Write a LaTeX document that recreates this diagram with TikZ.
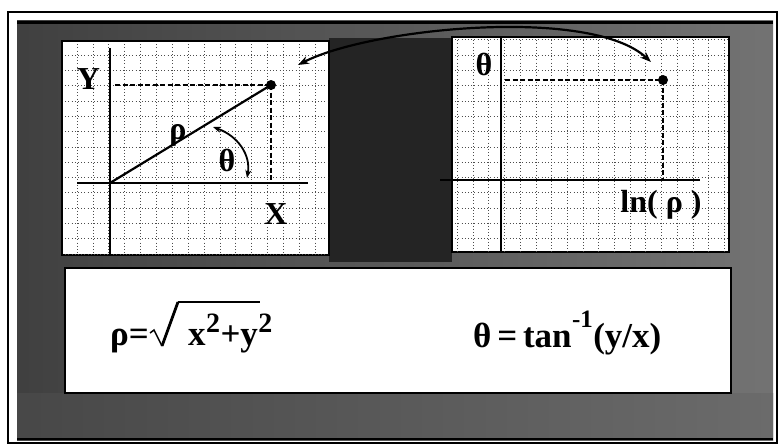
\documentclass[tikz,border=0pt]{standalone}
\usepackage{fontspec}
\setmainfont{Liberation Serif}
\usetikzlibrary{arrows.meta}
\begin{document}
\begin{tikzpicture}[x=1pt,y=-1pt,
  panel/.style={fill=white,draw=black,line width=2.2pt},
  gridline/.style={black!70,line width=0.6pt,dash pattern=on 0.8pt off 2.4pt},
  axisline/.style={black,line width=2pt},
  guide/.style={black,line width=2.4pt,dash pattern=on 5pt off 2.5pt},
  lbl/.style={font=\fontsize{32}{34}\selectfont\bfseries,inner sep=0pt},
  frm/.style={font=\fontsize{35}{38}\selectfont\bfseries,inner sep=0pt},
  sup/.style={font=\fontsize{28}{30}\selectfont\bfseries,inner sep=0pt},
  supsm/.style={font=\fontsize{25}{27}\selectfont\bfseries,inner sep=0pt},
  dotpt/.style={circle,fill=black,inner sep=0pt,minimum size=10pt},
  bigtip/.tip={Stealth[length=11pt,width=8pt]},
  smalltip/.tip={Stealth[length=8pt,width=6pt]},
]
\useasboundingbox (0,0) rectangle (780,445);
\fill[white] (0,0) rectangle (780,445);
% frame and textured background
\draw[line width=1.5pt] (8,12) rectangle (777,443);
\shade[left color=black!75,right color=black!55] (17,20) rectangle (773,440);
\shade[left color=black!72,right color=black!58] (17,393) rectangle (773,440);
\fill[black!86] (329,38) rectangle (452,262);
\draw[line width=3pt] (17,22) -- (773,22);
\draw[line width=2pt] (17,439) -- (773,439);

% ---------- left panel ----------
\draw[panel] (62,41) rectangle (329,255);
\begin{scope}
  \clip (63,42) rectangle (328,254);
  \foreach \i in {-1,...,16} \draw[gridline] ({77+15.87*\i},41) -- ++(0,214);
  \foreach \j in {-1,...,13} \draw[gridline] (62,{55+15.3*\j}) -- ++(267,0);
\end{scope}
\coordinate (lo) at (110,183);
\coordinate (lyt) at (110,48);
\coordinate (lyb) at (110,255);
\coordinate (lxl) at (77,183);
\coordinate (lxr) at (308,183);
\node[dotpt] (lp) at (271,85) {};
\coordinate (lyg) at (115,85);
\coordinate (lxg) at (271,183);
\draw[axisline] (lyt) -- (lyb);
\draw[axisline] (lxl) -- (lxr);
\draw[guide] (lyg) -- (lp.center);
\draw[guide] (lp.center) -- (lxg);
\draw[line width=2.2pt] (lo) -- (lp.center);
\coordinate (a1) at (213,127);
\coordinate (a2) at (247,178);
\draw[line width=1.8pt,smalltip-smalltip]
  (a1) .. controls (238,136) and (251,155) .. (a2);
\node[lbl] (ly) at (88.5,79) {Y};
\node[lbl] (lx) at (276,214) {X};
\node[lbl] (lrho) at (178,135) {ρ};
\node[lbl] (lth) at (227,160) {θ};

% ---------- right panel ----------
\draw[panel] (452,37) rectangle (729,252);
\begin{scope}
  \clip (453,38) rectangle (728,251);
  \foreach \i in {-2,...,16} \draw[gridline] ({473+15.7*\i},37) -- ++(0,215);
  \foreach \j in {-2,...,13} \draw[gridline] (452,{55+15.3*\j}) -- ++(277,0);
\end{scope}
\coordinate (ryt) at (501,37);
\coordinate (ryb) at (501,252);
\coordinate (rxl) at (440,180);
\coordinate (rxr) at (700,180);
\node[dotpt] (rp) at (663,80) {};
\coordinate (ryg) at (505,80);
\coordinate (rxg) at (663,180);
\draw[axisline] (ryt) -- (ryb);
\draw[axisline] (rxl) -- (rxr);
\draw[guide] (ryg) -- (rp.center);
\draw[guide] (rp.center) -- (rxg);
\node[lbl] (rth) at (484,64) {θ};
\node[lbl] (rln) at (661,205) {ln( ρ )};

% ---------- curved arrow between panels ----------
\coordinate (c1) at (298,65);
\coordinate (c2) at (651,62);
\draw[line width=2.2pt,bigtip-bigtip] (c1) .. controls (370,28) and (590,6) .. (c2);

% ---------- formula box ----------
\draw[panel] (65,268) rectangle (731,393);
\node[frm,anchor=base west] (feq) at (110,345) {ρ=};
\draw[line width=1.5pt,line join=miter] (150,333) -- (154,330) -- (162,346);
\draw[line width=2.8pt] (162,346) -- (178,302);
\draw[line width=1.6pt] (177.5,302) -- (260,302);
\node[frm,anchor=base west] (fx) at (188,345) {x};
\node[sup,anchor=base west] (fx2) at ([yshift=13pt]fx.base east) {2};
\node[frm,anchor=base west] (fy) at ([yshift=-13pt]fx2.base east) {+y};
\node[sup,anchor=base west] (fy2) at ([yshift=13pt]fy.base east) {2};

\node[frm,anchor=base west] (ft) at (473,347) {θ\,=\,tan};
\node[supsm,anchor=base west] (ftm) at ([yshift=20pt]ft.base east) {-1};
\node[frm,anchor=base west] (fyx) at ([yshift=-20pt]ftm.base east) {(y/x)};
\end{tikzpicture}
\end{document}
